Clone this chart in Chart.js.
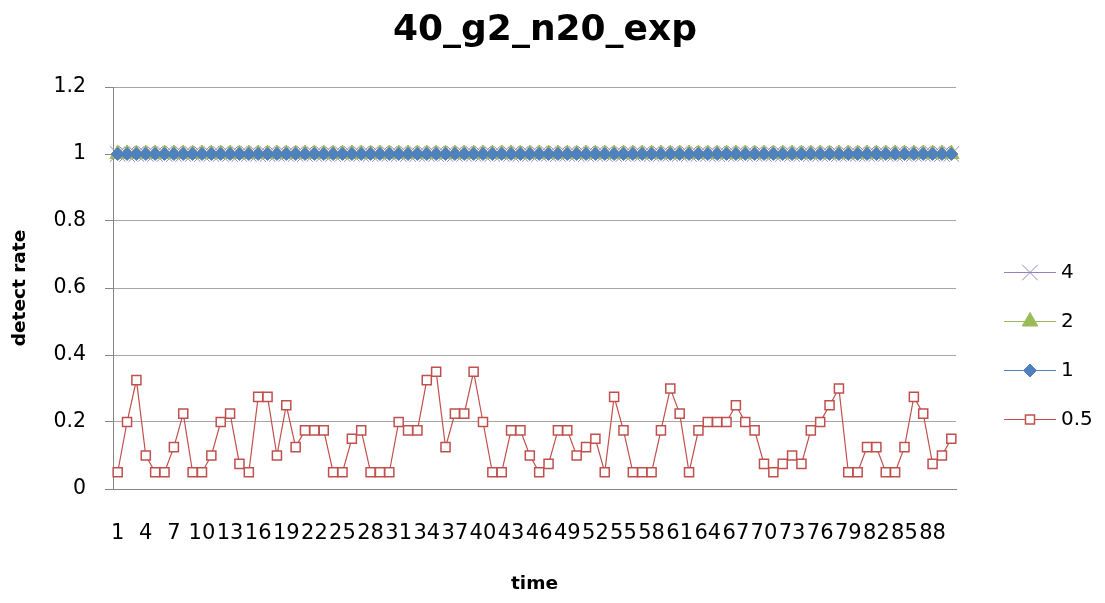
<!DOCTYPE html>
<html>
<head>
<meta charset="utf-8">
<title>40_g2_n20_exp</title>
<script src="https://cdn.jsdelivr.net/npm/chart.js@4.4.1/dist/chart.umd.min.js"></script>
<style>
  html, body { margin: 0; padding: 0; background: #fff; }
  #wrap { width: 1105px; height: 603px; }
</style>
</head>
<body>
<div id="wrap"><canvas id="rateChart" width="1105" height="603"></canvas></div>
<script>
// x categories (time steps)
const timeLabels = [
  1, 2, 3, 4, 5, 6, 7, 8, 9, 10, 11, 12, 13, 14, 15, 16, 17, 18, 19, 20,
  21, 22, 23, 24, 25, 26, 27, 28, 29, 30, 31, 32, 33, 34, 35, 36, 37, 38, 39, 40,
  41, 42, 43, 44, 45, 46, 47, 48, 49, 50, 51, 52, 53, 54, 55, 56, 57, 58, 59, 60,
  61, 62, 63, 64, 65, 66, 67, 68, 69, 70, 71, 72, 73, 74, 75, 76, 77, 78, 79, 80,
  81, 82, 83, 84, 85, 86, 87, 88, 89, 90
];

// detect rate per series
const rate4 = [
  1, 1, 1, 1, 1, 1, 1, 1, 1, 1, 1, 1, 1, 1, 1, 1, 1, 1, 1, 1,
  1, 1, 1, 1, 1, 1, 1, 1, 1, 1, 1, 1, 1, 1, 1, 1, 1, 1, 1, 1,
  1, 1, 1, 1, 1, 1, 1, 1, 1, 1, 1, 1, 1, 1, 1, 1, 1, 1, 1, 1,
  1, 1, 1, 1, 1, 1, 1, 1, 1, 1, 1, 1, 1, 1, 1, 1, 1, 1, 1, 1,
  1, 1, 1, 1, 1, 1, 1, 1, 1, 1
];
const rate2 = [
  1, 1, 1, 1, 1, 1, 1, 1, 1, 1, 1, 1, 1, 1, 1, 1, 1, 1, 1, 1,
  1, 1, 1, 1, 1, 1, 1, 1, 1, 1, 1, 1, 1, 1, 1, 1, 1, 1, 1, 1,
  1, 1, 1, 1, 1, 1, 1, 1, 1, 1, 1, 1, 1, 1, 1, 1, 1, 1, 1, 1,
  1, 1, 1, 1, 1, 1, 1, 1, 1, 1, 1, 1, 1, 1, 1, 1, 1, 1, 1, 1,
  1, 1, 1, 1, 1, 1, 1, 1, 1, 1
];
const rate1 = [
  1, 1, 1, 1, 1, 1, 1, 1, 1, 1, 1, 1, 1, 1, 1, 1, 1, 1, 1, 1,
  1, 1, 1, 1, 1, 1, 1, 1, 1, 1, 1, 1, 1, 1, 1, 1, 1, 1, 1, 1,
  1, 1, 1, 1, 1, 1, 1, 1, 1, 1, 1, 1, 1, 1, 1, 1, 1, 1, 1, 1,
  1, 1, 1, 1, 1, 1, 1, 1, 1, 1, 1, 1, 1, 1, 1, 1, 1, 1, 1, 1,
  1, 1, 1, 1, 1, 1, 1, 1, 1, 1
];
const rate05 = [
  0.05, 0.2, 0.325, 0.1, 0.05, 0.05, 0.125, 0.225, 0.05, 0.05,
  0.1, 0.2, 0.225, 0.075, 0.05, 0.275, 0.275, 0.1, 0.25, 0.125,
  0.175, 0.175, 0.175, 0.05, 0.05, 0.15, 0.175, 0.05, 0.05, 0.05,
  0.2, 0.175, 0.175, 0.325, 0.35, 0.125, 0.225, 0.225, 0.35, 0.2,
  0.05, 0.05, 0.175, 0.175, 0.1, 0.05, 0.075, 0.175, 0.175, 0.1,
  0.125, 0.15, 0.05, 0.275, 0.175, 0.05, 0.05, 0.05, 0.175, 0.3,
  0.225, 0.05, 0.175, 0.2, 0.2, 0.2, 0.25, 0.2, 0.175, 0.075,
  0.05, 0.075, 0.1, 0.075, 0.175, 0.2, 0.25, 0.3, 0.05, 0.05,
  0.125, 0.125, 0.05, 0.05, 0.125, 0.275, 0.225, 0.075, 0.1, 0.15
];

const yTicks = [0, 0.2, 0.4, 0.6, 0.8, 1, 1.2];

const FONT = '"DejaVu Sans", Lato, sans-serif';
Chart.defaults.font.family = FONT;
Chart.defaults.color = '#000';

// title drawn at a fixed spot, legend on the right with line + marker
const sideDecor = {
  id: 'sideDecor',
  afterDraw(chart) {
    const ctx = chart.ctx;
    ctx.save();
    ctx.fillStyle = '#000';
    ctx.font = 'bold 36px ' + FONT;
    ctx.textAlign = 'center';
    ctx.textBaseline = 'middle';
    ctx.fillText('40_g2_n20_exp', 545, 31);

    const rows = chart.data.datasets.slice().reverse();
    rows.forEach((ds, i) => {
      const y = 272 + i * 49;
      ctx.strokeStyle = ds.borderColor;
      ctx.lineWidth = 1;
      ctx.beginPath();
      ctx.moveTo(1004, y + 0.5);
      ctx.lineTo(1056, y + 0.5);
      ctx.stroke();
      ctx.fillStyle = ds.pointBackgroundColor;
      ctx.strokeStyle = ds.pointBorderColor;
      ctx.lineWidth = ds.pointBorderWidth;
      Chart.helpers.drawPoint(ctx, {
        pointStyle: ds.pointStyle,
        radius: ds.pointRadius,
        rotation: 0,
        borderWidth: ds.pointBorderWidth
      }, 1030, y + 0.5);
      ctx.fillStyle = '#000';
      ctx.font = '20px ' + FONT;
      ctx.textAlign = 'left';
      ctx.textBaseline = 'middle';
      ctx.fillText(ds.label, 1061, y + 1);
    });
    ctx.restore();
  }
};

function draw() {
  new Chart(document.getElementById('rateChart'), {
    type: 'line',
    data: {
      labels: timeLabels,
      datasets: [
        {
          label: '0.5', data: rate05,
          borderColor: '#C0504D', borderWidth: 1.2,
          pointStyle: 'rect', pointRadius: 6.4,
          pointBackgroundColor: '#fff', pointBorderColor: '#C0504D', pointBorderWidth: 1.5
        },
        {
          label: '1', data: rate1,
          borderColor: '#4F81BD', borderWidth: 1.2,
          pointStyle: 'rectRot', pointRadius: 6.5,
          pointBackgroundColor: '#4F81BD', pointBorderColor: '#4F81BD', pointBorderWidth: 1
        },
        {
          label: '2', data: rate2,
          borderColor: '#9BBB59', borderWidth: 1.2,
          pointStyle: 'triangle', pointRadius: 9,
          pointBackgroundColor: '#9BBB59', pointBorderColor: '#9BBB59', pointBorderWidth: 1
        },
        {
          label: '4', data: rate4,
          borderColor: '#9581BE', borderWidth: 1.2,
          pointStyle: 'crossRot', pointRadius: 11,
          pointBackgroundColor: '#9581BE', pointBorderColor: '#9581BE', pointBorderWidth: 1
        }
      ]
    },
    options: {
      responsive: false,
      animation: false,
      devicePixelRatio: 1,
      layout: { padding: { top: 87, right: 149, left: 0, bottom: 0 } },
      plugins: {
        legend: { display: false },
        title: { display: false },
        tooltip: { enabled: false }
      },
      scales: {
        x: {
          type: 'category',
          offset: true,
          grid: { display: false, drawTicks: false },
          border: { display: true, color: '#868686', width: 1 },
          ticks: {
            autoSkip: false, maxRotation: 0, minRotation: 0, padding: 32,
            font: { size: 21 }, color: '#000',
            callback: (v, i) => (i % 3 === 0 ? String(timeLabels[i]) : '')
          },
          title: {
            display: true, text: 'time',
            font: { size: 18.5, weight: 'bold' },
            padding: { top: 0, bottom: 8 }
          },
          afterFit(scale) { scale.height = 114; }
        },
        y: {
          min: 0, max: 1.2,
          afterBuildTicks(scale) { scale.ticks = yTicks.map(v => ({ value: v })); },
          grid: { color: '#A6A6A6', tickLength: 8, tickColor: '#868686' },
          border: { color: '#868686' },
          ticks: {
            padding: 19, font: { size: 20.5 }, color: '#000',
            callback: v => String(+Number(v).toFixed(1))
          },
          title: {
            display: true, text: 'detect rate',
            font: { size: 18.5, weight: 'bold' },
            padding: { top: 9, bottom: 0 }
          },
          afterFit(scale) { scale.width = 113; }
        }
      }
    },
    plugins: [sideDecor]
  });
}

if (document.fonts && document.fonts.load) {
  Promise.all([
    document.fonts.load('20px "DejaVu Sans"'),
    document.fonts.load('bold 36px "DejaVu Sans"')
  ]).then(draw, draw);
} else {
  draw();
}
</script>
</body>
</html>
